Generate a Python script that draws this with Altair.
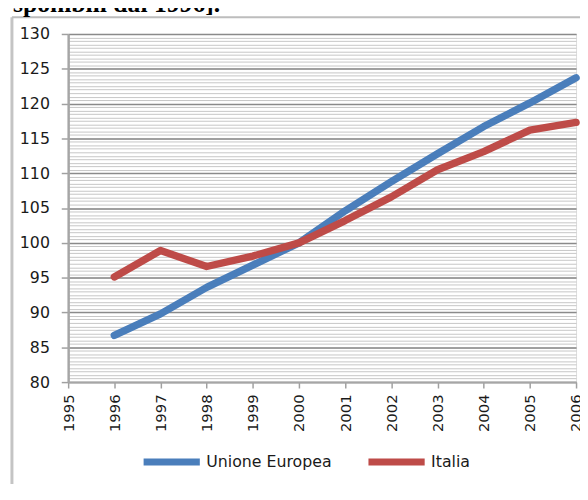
import altair as alt
import pandas as pd

# ---- data ----
years = [1996, 1997, 1998, 1999, 2000, 2001, 2002, 2003, 2004, 2005, 2006]
ue_values = [86.7, 89.8, 93.6, 96.8, 100.0, 104.6, 108.8, 112.8, 116.7, 120.1, 123.7]
it_values = [95.1, 98.9, 96.6, 98.1, 100.0, 103.2, 106.6, 110.5, 113.1, 116.2, 117.3]
series_names = ["Unione Europea", "Italia"]
series_colors = ["#4a7ebb", "#be4b48"]
x_tick_values = [1995, 1996, 1997, 1998, 1999, 2000, 2001, 2002, 2003, 2004, 2005, 2006]
y_major_values = [80, 85, 90, 95, 100, 105, 110, 115, 120, 125, 130]
y_minor_values = [80 + 0.5 * i for i in range(101)]
caption_text = ["sponibili dal 1996]."]

rows = []
for name, vals in zip(series_names, [ue_values, it_values]):
    for yr, v in zip(years, vals):
        rows.append({"anno": yr, "valore": v, "serie": name})
df = pd.DataFrame(rows)

W, H = 515, 353
FONT = "DejaVu Sans"

x_scale = alt.Scale(domain=[1995, 2006], nice=False, zero=False)
y_scale = alt.Scale(domain=[80, 130], nice=False, zero=False)

x_axis = alt.Axis(
    values=x_tick_values, format="d", labelAngle=-90, title=None, grid=False,
    tickSize=6, tickColor="#a0a0a0", tickWidth=1.5, domainColor="#a6a6a6",
    domainWidth=2, labelFont=FONT, labelFontSize=15, labelColor="#1a1a1a",
    labelPadding=6, labelFlush=False, labelOverlap=False,
)

# minor gridlines (independent right axis, only grid shown)
minor = alt.Chart(df).mark_point(opacity=0).encode(
    x=alt.X("anno:Q", scale=x_scale, axis=x_axis),
    y=alt.Y(
        "valore:Q",
        scale=y_scale,
        axis=alt.Axis(
            orient="right", values=y_minor_values, grid=True, gridColor="#c6c6c6",
            gridWidth=1, labels=False, ticks=False, domain=False, title=None,
        ),
    ),
)

lines = alt.Chart(df).mark_line(strokeWidth=7.5, strokeCap="round", strokeJoin="round").encode(
    x=alt.X("anno:Q", scale=x_scale, axis=x_axis),
    y=alt.Y(
        "valore:Q",
        scale=y_scale,
        axis=alt.Axis(
            values=y_major_values, grid=True, gridColor="#8a8a8a", gridWidth=1.5,
            tickSize=7, tickColor="#a0a0a0", tickWidth=1.5, domainColor="#a6a6a6",
            domainWidth=2.5, labelPadding=12, title=None, labelFont=FONT,
            labelFontSize=16, labelColor="#1a1a1a", labelFlush=False, labelOverlap=False,
        ),
    ),
    color=alt.Color(
        "serie:N",
        scale=alt.Scale(domain=series_names, range=series_colors),
        sort=series_names,
        legend=alt.Legend(
            orient="none", legendX=73, legendY=402, direction="horizontal", title=None,
            symbolType="stroke", symbolSize=3249, symbolStrokeWidth=7, labelOffset=3,
            columnPadding=22, labelFont=FONT, labelFontSize=16, labelColor="#1a1a1a",
            padding=0,
        ),
    ),
    detail="serie:N",
)

one = alt.Data(values=[{"k": 1}])
frame_left = alt.Chart(one).mark_rule(color="#c4c4c4", strokeWidth=3).encode(
    x=alt.value(-57), y=alt.value(-17), y2=alt.value(H + 140)
)
frame_top = alt.Chart(one).mark_rule(color="#bdbdbd", strokeWidth=2).encode(
    x=alt.value(-57), x2=alt.value(W + 40), y=alt.value(-17)
)

caption = alt.Chart(pd.DataFrame({"t": caption_text})).mark_text(
    align="left", baseline="alphabetic", font="Liberation Serif", fontWeight="bold",
    fontSize=26, color="#000000",
).encode(x=alt.value(-56), y=alt.value(-22), text="t:N")

chart = (
    alt.layer(minor, lines, frame_left, frame_top, caption)
    .resolve_axis(y="independent")
    .properties(
        width=W,
        height=H,
        autosize=alt.AutoSizeParams(type="none"),
        padding={"left": 61, "top": 23, "right": 4, "bottom": 100},
    )
    .configure_view(stroke=None)
    .configure(background="white")
)

chart.save("out.html", embed_options={"renderer": "svg", "actions": False})
